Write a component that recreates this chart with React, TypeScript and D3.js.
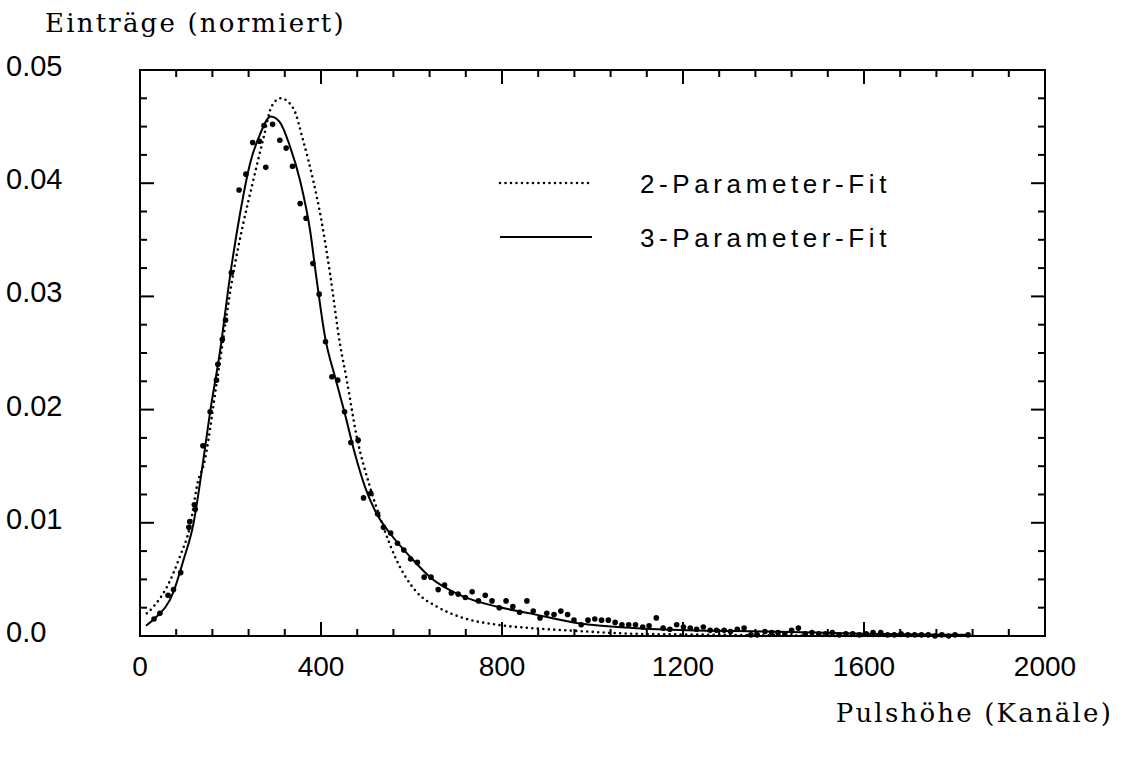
import React from "react";
import * as d3 from "d3";

// ---- data ----
const channels = [31,44,62,74,90,108,110,120,122,139,155,169,172,182,189,202,219,234,249,264,274,278,293,309,323,337,354,367,382,396,410,424,437,452,466,482,494,510,525,538,554,569,583,598,613,628,643,659,673,688,703,719,734,748,763,778,794,809,824,839,855,869,884,899,915,930,945,959,975,990,1005,1020,1035,1050,1065,1080,1095,1111,1125,1141,1156,1171,1186,1201,1216,1230,1245,1260,1274,1291,1305,1320,1335,1350,1364,1381,1396,1410,1425,1440,1455,1470,1485,1500,1515,1530,1545,1560,1575,1590,1605,1620,1637,1652,1667,1682,1697,1712,1727,1742,1757,1772,1787,1801,1830];
const entries = [0.0015,0.0020,0.0036,0.0041,0.0056,0.0096,0.0101,0.0116,0.0112,0.0168,0.0198,0.0226,0.0240,0.0262,0.0279,0.0321,0.0394,0.0408,0.0436,0.0437,0.0451,0.0414,0.0452,0.0438,0.0431,0.0415,0.0382,0.0369,0.0329,0.0302,0.0260,0.0229,0.0226,0.0198,0.0171,0.0173,0.0122,0.0126,0.0108,0.0096,0.0091,0.0082,0.0076,0.0068,0.0065,0.0052,0.0052,0.0041,0.0045,0.0038,0.0037,0.0034,0.0039,0.0031,0.0036,0.0031,0.0025,0.0031,0.0026,0.0021,0.0031,0.0022,0.0016,0.0020,0.0019,0.0022,0.0019,0.0014,0.0010,0.0014,0.0015,0.0014,0.0014,0.0012,0.0010,0.0010,0.0010,0.0008,0.0009,0.0016,0.0007,0.0006,0.0010,0.0008,0.0007,0.0006,0.0008,0.0005,0.0005,0.0005,0.0004,0.0006,0.0007,0.0001,0.0001,0.0004,0.0003,0.0003,0.0002,0.0005,0.0007,0.0002,0.0003,0.0002,0.0002,0.0003,0.0001,0.0002,0.0002,0.0001,0.0002,0.0003,0.0003,0.0001,0.0001,0.0002,0.0001,0.0001,0.0001,0.0001,0.0000,0.0001,0.0000,0.0001,0.0001];

const fit3X = [13,31,74,96,118,138,155,177,199,221,243,265,289,309,331,354,376,390,409,433,453,475,497,523,552,597,641,714,788,862,972,1090,1208,1385,1600,1830];
const fit3Y = [0.0009,0.0015,0.0039,0.0067,0.0099,0.0150,0.0198,0.0252,0.0318,0.0373,0.0417,0.0443,0.0459,0.0454,0.0433,0.0402,0.0358,0.0316,0.0264,0.0226,0.0196,0.0161,0.0132,0.0108,0.0091,0.0070,0.0052,0.0035,0.0026,0.0020,0.0011,0.0007,0.0005,0.0004,0.0002,0.0001];

const fit2X = [15,30,59,88,110,129,140,170,206,228,250,273,291,311,339,361,383,401,420,442,457,479,508,538,567,611,656,714,788,862,943,1090,1300,1600,1830];
const fit2Y = [0.0020,0.0026,0.0043,0.0070,0.0096,0.0138,0.0150,0.0225,0.0320,0.0364,0.0402,0.0440,0.0468,0.0475,0.0466,0.0437,0.0402,0.0367,0.0320,0.0258,0.0226,0.0176,0.0132,0.0096,0.0067,0.0039,0.0026,0.0016,0.0010,0.0007,0.0005,0.0002,0.0001,0.0000,0.0000];

const xTickLabels = ["0", "400", "800", "1200", "1600", "2000"];
const yTickLabels = ["0.0", "0.01", "0.02", "0.03", "0.04", "0.05"];
const legendLabels = ["2-Parameter-Fit", "3-Parameter-Fit"];
const xTitle = "Pulshöhe (Kanäle)";
const yTitle = "Einträge (normiert)";

export default function App() {
  const W = 1130, H = 762;
  const L = 140, R = 1045, T = 70, B = 636;
  const x = d3.scaleLinear().domain([0, 2000]).range([L, R]);
  const y = d3.scaleLinear().domain([0, 0.05]).range([B, T]);

  const line = d3.line<[number, number]>()
    .x(d => x(d[0])).y(d => y(d[1]))
    .curve(d3.curveMonotoneX);

  const fit3 = line(fit3X.map((v, i) => [v, fit3Y[i]] as [number, number])) || "";
  const fit2 = line(fit2X.map((v, i) => [v, fit2Y[i]] as [number, number])) || "";

  const xMinor = d3.range(0, 2001, 80);
  const xMajor = d3.range(0, 2001, 400);
  const yMinor = d3.range(0, 0.05001, 0.0025);
  const yMajor = d3.range(0, 0.05001, 0.01);

  const tickFont = "'Liberation Sans', Arial, sans-serif";
  const serif = "'DejaVu Serif', serif";

  return (
    <svg width={W} height={H} style={{ position: "absolute", left: 0, top: 0, background: "#fff" }}>
      <rect x={0} y={0} width={W} height={H} fill="#fff" />
      {/* frame */}
      <rect x={L} y={T} width={R - L} height={B - T} fill="none" stroke="#000" strokeWidth={2} />
      {/* x ticks bottom and top */}
      {xMinor.map((v, i) => {
        const major = xMajor.some(m => Math.abs(m - v) < 1e-6);
        const len = major ? 14 : 7;
        return (
          <g key={"xt" + i}>
            <line x1={x(v)} x2={x(v)} y1={B} y2={B - len} stroke="#000" strokeWidth={2} />
            <line x1={x(v)} x2={x(v)} y1={T} y2={T + len} stroke="#000" strokeWidth={2} />
          </g>
        );
      })}
      {/* y ticks left and right */}
      {yMinor.map((v, i) => {
        const major = yMajor.some(m => Math.abs(m - v) < 1e-9);
        const len = major ? 14 : 7;
        return (
          <g key={"yt" + i}>
            <line x1={L} x2={L + len} y1={y(v)} y2={y(v)} stroke="#000" strokeWidth={2} />
            <line x1={R} x2={R - len} y1={y(v)} y2={y(v)} stroke="#000" strokeWidth={2} />
          </g>
        );
      })}
      {/* x tick labels */}
      {xMajor.map((v, i) => (
        <text key={"xl" + i} x={x(v)} y={676} textAnchor="middle"
          fontFamily={tickFont} fontSize={28}>{xTickLabels[i]}</text>
      ))}
      {/* y tick labels */}
      {yMajor.map((v, i) => (
        <text key={"yl" + i} x={6} y={y(v) + 6} textAnchor="start"
          fontFamily={tickFont} fontSize={29}>{yTickLabels[i]}</text>
      ))}
      {/* titles */}
      <text x={45} y={32} fontFamily={serif} fontSize={26} letterSpacing={2.2}>{yTitle}</text>
      <text x={1113} y={722} textAnchor="end" fontFamily={serif} fontSize={26} letterSpacing={2.2}>{xTitle}</text>

      {/* curves */}
      <path d={fit2} fill="none" stroke="#000" strokeWidth={2.6} strokeDasharray="0 5.5" strokeLinecap="round" />
      <path d={fit3} fill="none" stroke="#000" strokeWidth={2} />

      {/* data points */}
      {channels.map((c, i) => (
        <circle key={"p" + i} cx={x(c)} cy={y(entries[i])} r={2.8} fill="#000" />
      ))}

      {/* legend */}
      <line x1={500} x2={592} y1={183} y2={183} stroke="#000" strokeWidth={2.6} strokeDasharray="0 5.5" strokeLinecap="round" />
      <text x={640} y={193} fontFamily={tickFont} fontSize={26} letterSpacing={4.6}>{legendLabels[0]}</text>
      <line x1={500} x2={592} y1={237} y2={237} stroke="#000" strokeWidth={2} />
      <text x={640} y={247} fontFamily={tickFont} fontSize={26} letterSpacing={4.6}>{legendLabels[1]}</text>
    </svg>
  );
}
